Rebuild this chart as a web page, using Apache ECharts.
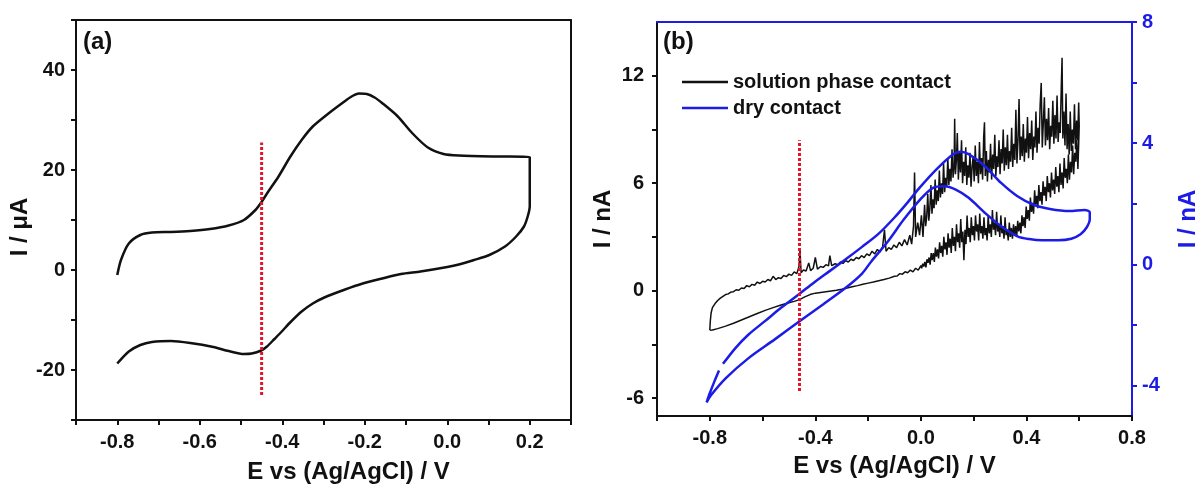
<!DOCTYPE html>
<html>
<head>
<meta charset="utf-8">
<script src="https://cdn.jsdelivr.net/npm/echarts@6/dist/echarts.min.js"></script>
<style>
  html, body { margin: 0; padding: 0; background: #ffffff; }
  #chart { width: 1201px; height: 490px; }
</style>
</head>
<body>
<div id="chart"></div>
<script>
// ---- Panel (a): cyclic voltammogram, current in µA ----
const cvA = [
  [-0.800,-1.0],[-0.791,2.0],[-0.772,5.3],[-0.744,7.0],[-0.716,7.5],[-0.670,7.6],
  [-0.623,7.8],[-0.575,8.2],[-0.530,8.9],[-0.493,10.0],[-0.465,12.0],[-0.451,13.5],
  [-0.437,15.3],[-0.409,18.7],[-0.381,22.6],[-0.353,26.0],[-0.326,28.7],[-0.288,31.3],
  [-0.251,33.6],[-0.232,34.7],[-0.214,35.3],[-0.195,35.2],[-0.176,34.5],[-0.158,33.4],
  [-0.121,30.8],[-0.084,27.3],[-0.047,24.5],[-0.009,23.2],[0.028,22.9],[0.121,22.7],
  [0.200,22.6],[0.200,12.7],[0.195,10.7],[0.186,8.7],[0.167,6.7],[0.140,4.7],
  [0.102,3.0],[0.065,2.0],[0.028,1.1],[0.000,0.6],[-0.065,-0.3],[-0.112,-0.8],
  [-0.158,-1.7],[-0.205,-2.7],[-0.251,-4.0],[-0.298,-5.5],[-0.326,-6.7],[-0.353,-8.3],
  [-0.381,-10.5],[-0.400,-12.2],[-0.419,-13.8],[-0.437,-15.3],[-0.451,-16.1],[-0.474,-16.7],
  [-0.493,-16.8],[-0.530,-16.2],[-0.567,-15.4],[-0.623,-14.6],[-0.670,-14.2],[-0.716,-14.4],
  [-0.744,-15.0],[-0.772,-16.3],[-0.800,-18.7]
];
const markerA = [[-0.45,-25],[-0.45,25.5]];

// ---- Panel (b): solution phase contact (left axis, nA) ----
const solutionForward = [
  [-0.800,-2.20],[-0.798,-1.70],[-0.795,-1.25],[-0.790,-0.95],[-0.780,-0.72],[-0.770,-0.55],
  [-0.760,-0.42],[-0.750,-0.32],[-0.740,-0.22],[-0.730,-0.18],[-0.720,-0.08],[-0.710,-0.06],
  [-0.700,0.05],[-0.690,0.02],[-0.680,0.15],[-0.670,0.12],[-0.660,0.28],[-0.650,0.22],
  [-0.640,0.35],[-0.630,0.30],[-0.620,0.48],[-0.610,0.40],[-0.600,0.52],[-0.590,0.48],
  [-0.580,0.62],[-0.570,0.55],[-0.560,0.80],[-0.550,0.62],[-0.540,0.72],[-0.530,0.68],
  [-0.520,0.85],[-0.510,0.78],[-0.500,0.92],[-0.490,0.85],[-0.480,1.05],[-0.470,0.95],
  [-0.462,1.35],[-0.458,2.25],[-0.454,1.00],[-0.445,1.15],[-0.435,1.10],[-0.425,1.55],
  [-0.418,1.12],[-0.408,1.25],[-0.400,1.85],[-0.392,1.20],[-0.380,1.35],[-0.370,1.30],
  [-0.360,1.45],[-0.350,1.38],[-0.345,1.95],[-0.338,1.40],[-0.325,1.50],[-0.315,1.45],
  [-0.305,1.60],[-0.295,1.52],[-0.285,1.68],[-0.275,1.60],[-0.265,1.75],[-0.255,1.68],
  [-0.245,1.85],[-0.235,1.78],[-0.225,1.95],[-0.215,1.85],[-0.205,2.05],[-0.195,1.95],
  [-0.185,2.20],[-0.175,2.05],[-0.165,2.30],[-0.155,2.15],[-0.145,2.45],[-0.138,3.40],
  [-0.132,2.20],[-0.122,2.40],[-0.112,2.30],[-0.102,2.55],[-0.092,2.40],[-0.082,2.70],
  [-0.072,2.50],[-0.062,2.85],[-0.052,2.55],[-0.042,3.10],[-0.035,2.60],[-0.028,3.60],
  [-0.024,6.60],[-0.020,3.00],[-0.012,3.80],[-0.005,3.10],[0.002,4.20],[0.008,3.00],
  [0.014,4.80],[0.018,3.60],[0.022,4.10],[0.026,5.40],[0.030,3.90],[0.034,4.60],
  [0.038,5.90],[0.042,4.30],[0.046,5.10],[0.050,4.60],[0.054,6.20],[0.058,4.80],
  [0.062,5.60],[0.066,5.00],[0.070,6.70],[0.074,5.20],[0.078,6.00],[0.082,5.40],
  [0.086,7.10],[0.090,5.50],[0.094,6.30],[0.098,5.80],[0.102,7.40],[0.106,5.90],
  [0.110,6.80],[0.114,6.10],[0.118,7.90],[0.122,6.30],[0.126,7.00],[0.128,9.60],
  [0.131,6.50],[0.135,7.40],[0.138,8.80],[0.142,6.20],[0.146,7.80],[0.150,6.60],
  [0.154,8.40],[0.158,6.00],[0.162,7.20],[0.166,6.40],[0.170,8.00],[0.174,5.90],
  [0.178,7.00],[0.182,6.30],[0.186,7.70],[0.190,5.80],[0.194,6.90],[0.198,7.50],
  [0.202,6.10],[0.206,8.10],[0.210,6.40],[0.214,7.20],[0.218,6.00],[0.222,8.30],
  [0.226,6.50],[0.230,7.40],[0.234,6.20],[0.238,8.60],[0.241,9.40],[0.244,6.40],
  [0.248,7.80],[0.252,6.10],[0.256,7.30],[0.260,6.60],[0.264,8.20],[0.268,6.20],
  [0.272,7.60],[0.276,6.80],[0.280,8.70],[0.284,6.40],[0.288,7.50],[0.292,6.90],
  [0.296,8.40],[0.300,6.50],[0.304,7.90],[0.308,7.10],[0.312,9.00],[0.316,6.70],
  [0.320,8.00],[0.324,7.00],[0.328,8.70],[0.332,6.80],[0.336,7.80],[0.340,7.20],
  [0.344,9.10],[0.348,6.90],[0.352,8.20],[0.356,7.30],[0.360,10.1],[0.364,7.10],
  [0.368,8.40],[0.372,10.7],[0.376,7.30],[0.380,8.60],[0.384,7.50],[0.388,9.30],
  [0.392,7.20],[0.396,8.50],[0.400,7.70],[0.404,9.70],[0.408,7.40],[0.412,8.80],
  [0.416,7.90],[0.420,9.50],[0.424,7.30],[0.428,8.60],[0.432,8.00],[0.436,10.0],
  [0.440,7.70],[0.444,9.10],[0.448,8.20],[0.452,10.4],[0.456,11.6],[0.460,8.00],
  [0.464,9.40],[0.468,10.8],[0.472,8.10],[0.476,9.60],[0.480,8.40],[0.484,10.2],
  [0.488,7.90],[0.492,9.20],[0.496,8.60],[0.500,10.6],[0.504,8.20],[0.508,9.80],
  [0.512,8.50],[0.516,10.9],[0.520,8.30],[0.524,9.40],[0.528,8.80],[0.532,11.4],
  [0.535,13.0],[0.538,8.50],[0.542,10.0],[0.546,8.10],[0.550,11.0],[0.554,7.90],
  [0.558,9.30],[0.562,7.60],[0.566,10.0],[0.570,7.80],[0.574,9.00],[0.578,8.20],
  [0.582,10.4],[0.586,7.90],[0.590,9.50],[0.594,8.40],[0.598,10.5],[0.600,9.20]
];
const solutionReverse = [
  [0.598,8.20],[0.595,6.80],[0.591,8.40],[0.587,7.20],[0.583,7.70],[0.579,6.50],
  [0.575,8.10],[0.571,6.60],[0.567,7.20],[0.563,6.20],[0.559,7.60],[0.555,6.00],
  [0.551,6.80],[0.547,6.30],[0.543,7.40],[0.539,5.70],[0.535,6.60],[0.531,5.90],
  [0.527,7.10],[0.523,5.50],[0.519,6.40],[0.515,5.80],[0.511,6.90],[0.507,5.40],
  [0.503,6.20],[0.499,5.60],[0.495,6.60],[0.491,5.20],[0.487,6.00],[0.483,5.50],
  [0.479,6.40],[0.475,5.00],[0.471,5.80],[0.467,5.30],[0.463,6.10],[0.459,4.80],
  [0.455,5.50],[0.451,5.00],[0.447,5.90],[0.443,4.60],[0.439,5.30],[0.435,4.80],
  [0.431,5.60],[0.427,4.30],[0.423,4.90],[0.419,4.40],[0.415,5.20],[0.411,3.90],
  [0.407,4.50],[0.403,4.00],[0.399,4.70],[0.395,3.50],[0.391,4.10],[0.387,3.60],
  [0.383,4.20],[0.379,3.20],[0.375,3.80],[0.371,3.30],[0.367,3.90],[0.363,3.00],
  [0.359,3.60],[0.355,3.10],[0.351,3.70],[0.347,2.90],[0.343,3.50],[0.339,3.00],
  [0.335,3.80],[0.331,2.80],[0.327,3.40],[0.323,3.10],[0.319,4.10],[0.315,2.90],
  [0.311,3.60],[0.307,3.20],[0.303,4.20],[0.299,3.00],[0.295,3.70],[0.291,3.30],
  [0.287,4.40],[0.283,3.10],[0.279,3.80],[0.275,3.40],[0.271,4.50],[0.267,3.00],
  [0.263,3.70],[0.259,3.20],[0.255,4.20],[0.251,2.80],[0.247,3.50],[0.243,3.10],
  [0.239,4.10],[0.235,2.90],[0.231,3.60],[0.227,3.20],[0.223,4.30],[0.219,2.80],
  [0.215,3.70],[0.211,3.30],[0.207,4.20],[0.203,2.80],[0.199,3.60],[0.195,3.10],
  [0.191,4.10],[0.187,2.70],[0.183,3.50],[0.179,3.00],[0.175,4.20],[0.171,2.60],
  [0.167,3.40],[0.163,1.70],[0.159,3.30],[0.155,2.70],[0.151,4.00],[0.147,2.40],
  [0.143,3.20],[0.139,2.70],[0.135,3.70],[0.131,2.20],[0.127,3.00],[0.123,2.50],
  [0.119,3.50],[0.115,2.10],[0.111,2.90],[0.107,2.40],[0.103,3.20],[0.099,2.00],
  [0.095,2.70],[0.091,2.30],[0.087,3.00],[0.083,1.90],[0.079,2.50],[0.075,2.10],
  [0.071,2.70],[0.067,1.80],[0.063,2.30],[0.059,1.90],[0.055,2.40],[0.051,1.60],
  [0.047,2.10],[0.043,1.70],[0.039,2.10],[0.035,1.45],[0.031,1.85],[0.027,1.55],
  [0.023,1.75],[0.019,1.30],[0.015,1.60],[0.011,1.35],[0.007,1.50],[0.003,1.25],
  [0.000,1.40],[-0.010,1.15],[-0.020,1.25],[-0.030,1.05],[-0.040,1.15],[-0.050,1.00],
  [-0.060,1.05],[-0.070,0.92],[-0.080,0.95],[-0.090,0.82],[-0.100,0.80],[-0.120,0.70],
  [-0.140,0.62],[-0.160,0.55],[-0.180,0.48],[-0.200,0.42],[-0.220,0.36],[-0.240,0.28],
  [-0.260,0.22],[-0.280,0.15],[-0.300,0.08],[-0.320,0.02],[-0.340,-0.02],[-0.360,-0.06],
  [-0.380,-0.10],[-0.400,-0.14],[-0.420,-0.22],[-0.440,-0.35],[-0.460,-0.50],[-0.480,-0.60],
  [-0.500,-0.68],[-0.530,-0.80],[-0.560,-0.95],[-0.590,-1.10],[-0.620,-1.28],[-0.650,-1.46],
  [-0.680,-1.64],[-0.710,-1.82],[-0.740,-1.98],[-0.770,-2.12],[-0.790,-2.20],[-0.800,-2.21]
];

// ---- Panel (b): dry contact (right axis, nA) ----
const dryContact = [
  [-0.750,-3.28],[-0.702,-2.75],[-0.653,-2.31],[-0.591,-1.87],[-0.530,-1.43],[-0.456,-0.94],
  [-0.407,-0.61],[-0.346,-0.22],[-0.285,0.17],[-0.223,0.58],[-0.162,1.00],[-0.100,1.55],
  [-0.050,2.05],[-0.003,2.55],[0.058,3.13],[0.120,3.62],[0.150,3.72],[0.181,3.64],
  [0.243,3.24],[0.304,2.69],[0.366,2.25],[0.427,1.97],[0.489,1.83],[0.563,1.76],
  [0.620,1.80],[0.640,1.72],[0.640,1.50],[0.628,1.22],[0.605,1.00],[0.570,0.85],
  [0.520,0.80],[0.460,0.80],[0.410,0.84],[0.366,0.93],[0.304,1.26],[0.243,1.70],
  [0.181,2.20],[0.132,2.47],[0.089,2.58],[0.046,2.53],[-0.003,2.14],[-0.065,1.48],
  [-0.126,0.75],[-0.188,0.10],[-0.223,-0.30],[-0.285,-0.77],[-0.371,-1.32],[-0.456,-1.85],
  [-0.555,-2.48],[-0.653,-3.09],[-0.739,-3.75],[-0.794,-4.30],[-0.812,-4.55],[-0.800,-4.25],
  [-0.782,-3.85],[-0.765,-3.50]
];
const markerB = [[-0.46,-5.6],[-0.46,8.4]];

// ---- Axis ticks and labels ----
const aXTicks = [-0.9,-0.8,-0.7,-0.6,-0.5,-0.4,-0.3,-0.2,-0.1,0,0.1,0.2,0.3];
const aXLabels = [-0.8,-0.6,-0.4,-0.2,0,0.2];
const aYTicks = [-30,-20,-10,0,10,20,30,40,50];
const aYLabels = [-20,0,20,40];
const bXTicks = [-1.0,-0.8,-0.6,-0.4,-0.2,0,0.2,0.4,0.6,0.8];
const bXLabels = [-0.8,-0.4,0,0.4,0.8];
const bYLeftTicks = [-6,-3,0,3,6,9,12];
const bYLeftLabels = [-6,0,6,12];
const bYRightTicks = [-4,-2,0,2,4,6,8];
const bYRightLabels = [-4,0,4,8];

const FONT = 'Liberation Sans, Arial, sans-serif';
const BLACK = '#111111';
const BLUE = '#1c1ce6';
const RED = '#e5132a';

function valueAxis(extra) {
  return Object.assign({
    type: 'value',
    splitLine: { show: false },
    axisLine: { show: true, onZero: false, lineStyle: { color: BLACK, width: 2 } },
    axisTick: { show: false },
    axisLabel: { show: false },
    nameTextStyle: { fontFamily: FONT, fontWeight: 'bold', fontSize: 24, color: BLACK }
  }, extra);
}
function ticks(values, color) {
  return { show: true, customValues: values, length: 5, lineStyle: { color: color || BLACK, width: 2 } };
}
function labels(values, fmt, margin, color) {
  return {
    show: true, customValues: values, formatter: fmt, margin: margin,
    fontFamily: FONT, fontWeight: 'bold', fontSize: 20, color: color || BLACK
  };
}
const fmt1 = v => Number(v).toFixed(1);
const fmt0 = v => String(Math.round(v));

const option = {
  backgroundColor: '#ffffff',
  animation: false,
  grid: [
    { left: 76, right: 630, top: 20, bottom: 70 },
    { left: 657, right: 58, top: 22, bottom: 74 }
  ],
  xAxis: [
    valueAxis({ gridIndex: 0, position: 'bottom', min: -0.9, max: 0.3,
      axisTick: ticks(aXTicks), axisLabel: labels(aXLabels, fmt1, 12),
      name: 'E vs (Ag/AgCl) / V', nameLocation: 'middle', nameGap: 40,
      nameTextStyle: { fontFamily: FONT, fontWeight: 'bold', fontSize: 24, color: BLACK, padding: [0, 0, 0, 50] } }),
    valueAxis({ gridIndex: 0, position: 'top', min: -0.9, max: 0.3 }),
    valueAxis({ gridIndex: 1, position: 'bottom', min: -1.0, max: 0.8,
      axisTick: ticks(bXTicks), axisLabel: labels(bXLabels, fmt1, 12),
      name: 'E vs (Ag/AgCl) / V', nameLocation: 'middle', nameGap: 38 }),
    valueAxis({ gridIndex: 1, position: 'top', min: -1.0, max: 0.8,
      axisLine: { show: true, onZero: false, lineStyle: { color: BLUE, width: 2 } } })
  ],
  yAxis: [
    valueAxis({ gridIndex: 0, position: 'left', min: -30, max: 50,
      axisTick: ticks(aYTicks), axisLabel: labels(aYLabels, fmt0, 11),
      name: 'I / \u03bcA', nameLocation: 'middle', nameGap: 44,
      nameTextStyle: { fontFamily: FONT, fontWeight: 'bold', fontSize: 24, color: BLACK, padding: [0, 14, 0, 0] } }),
    valueAxis({ gridIndex: 0, position: 'right', min: -30, max: 50 }),
    valueAxis({ gridIndex: 1, position: 'left', min: -7, max: 15,
      axisTick: ticks(bYLeftTicks), axisLabel: labels(bYLeftLabels, fmt0, 13),
      name: 'I / nA', nameLocation: 'middle', nameGap: 42 }),
    valueAxis({ gridIndex: 1, position: 'right', min: -5, max: 8,
      axisLine: { show: true, onZero: false, lineStyle: { color: BLUE, width: 2 } },
      axisTick: ticks(bYRightTicks, BLUE), axisLabel: labels(bYRightLabels, fmt0, 10, BLUE),
      name: 'I / nA', nameLocation: 'middle', nameGap: 44,
      nameTextStyle: { fontFamily: FONT, fontWeight: 'bold', fontSize: 24, color: BLUE } })
  ],
  legend: {
    left: 677, top: 67, orient: 'vertical', itemGap: 6,
    itemWidth: 46, itemHeight: 2.5, icon: 'rect', selectedMode: false,
    data: ['solution phase contact', 'dry contact'],
    textStyle: { fontFamily: FONT, fontWeight: 'bold', fontSize: 20, color: BLACK, lineHeight: 20 }
  },
  graphic: [
    { type: 'text', left: 83, top: 30, style: { text: '(a)', font: 'bold 24px ' + FONT, fill: BLACK } },
    { type: 'text', left: 663, top: 30, style: { text: '(b)', font: 'bold 24px ' + FONT, fill: BLACK } }
  ],
  series: [
    { type: 'line', name: 'cvA', xAxisIndex: 0, yAxisIndex: 0, data: cvA,
      smooth: 0.25, showSymbol: false, symbol: 'none',
      lineStyle: { color: BLACK, width: 2.5 } },
    { type: 'line', name: 'markerA', xAxisIndex: 0, yAxisIndex: 0, data: markerA,
      showSymbol: false, symbol: 'none',
      lineStyle: { color: RED, width: 3, type: [3, 2] } },
    { type: 'line', name: 'solution phase contact', xAxisIndex: 2, yAxisIndex: 2,
      data: solutionForward.concat(solutionReverse),
      showSymbol: false, symbol: 'none', color: BLACK,
      lineStyle: { color: BLACK, width: 1.5 } },
    { type: 'line', name: 'dry contact', xAxisIndex: 2, yAxisIndex: 3, data: dryContact,
      smooth: 0.3, showSymbol: false, symbol: 'none', color: BLUE,
      lineStyle: { color: BLUE, width: 2.5 } },
    { type: 'line', name: 'markerB', xAxisIndex: 2, yAxisIndex: 2, data: markerB,
      showSymbol: false, symbol: 'none',
      lineStyle: { color: RED, width: 3, type: [3, 2] } }
  ]
};

const chart = echarts.init(document.getElementById('chart'), null, { renderer: 'canvas' });
chart.setOption(option);
</script>
</body>
</html>
